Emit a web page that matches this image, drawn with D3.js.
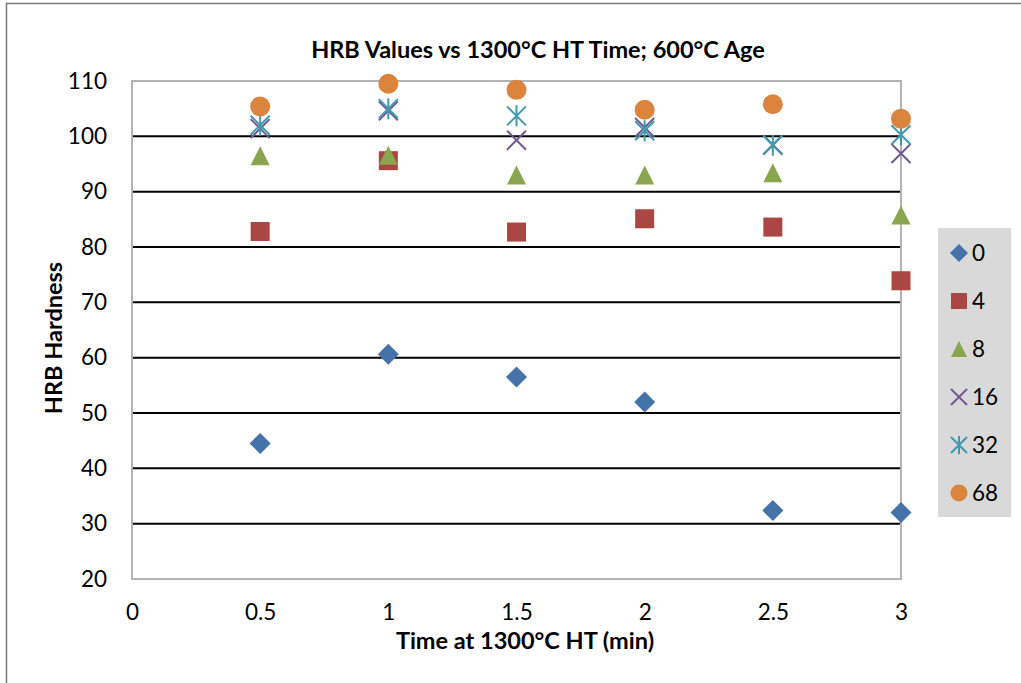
<!DOCTYPE html>
<html>
<head>
<meta charset="utf-8">
<script src="https://cdn.jsdelivr.net/npm/d3@7"></script>
<style>
  html, body { margin: 0; padding: 0; background: #fff; }
  svg { display: block; font-family: Lato, "Open Sans", sans-serif; }
</style>
</head>
<body>
<svg id="chart" width="1021" height="683"></svg>
<script>
// HT time (min) at which each sample set was measured
const times = [0.5, 1, 1.5, 2, 2.5, 3];

// Age time series names (legend labels)
const seriesNames = ["0", "4", "8", "16", "32", "68"];

// HRB readings per series, one per HT time
const hrb0  = [44.5, 60.6, 56.5, 52.0, 32.4, 32.0];
const hrb4  = [82.8, 95.6, 82.7, 85.1, 83.6, 73.9];
const hrb8  = [96.5, 96.6, 93.0, 93.0, 93.4, 85.8];
const hrb16 = [101.4, 104.6, 99.3, 101.6, 98.5, 96.9];
const hrb32 = [102.0, 105.0, 103.7, 101.0, 98.4, 100.3];
const hrb68 = [105.4, 109.5, 108.4, 104.8, 105.8, 103.2];

const xTicks = [0, 0.5, 1, 1.5, 2, 2.5, 3];
const yTicks = [20, 30, 40, 50, 60, 70, 80, 90, 100, 110];

const seriesValues = [hrb0, hrb4, hrb8, hrb16, hrb32, hrb68];
const colors = ["#4572A7", "#AA4643", "#89A54E", "#71588F", "#4198AF", "#DB843D"];
const shapes = ["diamond", "square", "triangle", "x", "star", "circle"];

const svg = d3.select("#chart");

// outer chart frame
svg.append("rect")
  .attr("x", 6.5).attr("y", 3.5)
  .attr("width", 1030).attr("height", 700)
  .attr("fill", "#fff").attr("stroke", "#7a7a7a").attr("stroke-width", 1.5);

const plot = { left: 132, right: 901, top: 81, bottom: 579 };

const x = d3.scaleLinear().domain([0, 3]).range([plot.left, plot.right]);
const y = d3.scaleLinear().domain([20, 110]).range([plot.bottom, plot.top]);

// horizontal gridlines
svg.append("g")
  .selectAll("line")
  .data(yTicks.filter(v => v > 20 && v < 110))
  .join("line")
  .attr("x1", plot.left).attr("x2", plot.right)
  .attr("y1", d => y(d)).attr("y2", d => y(d))
  .attr("stroke", "#000").attr("stroke-width", 2);

// plot area border
svg.append("rect")
  .attr("x", plot.left).attr("y", plot.top)
  .attr("width", plot.right - plot.left).attr("height", plot.bottom - plot.top)
  .attr("fill", "none").attr("stroke", "#b3b3b3").attr("stroke-width", 2);

// axes (labels only, lines come from the plot border)
const tickFont = 22.5;
const yAxis = d3.axisLeft(y).tickValues(yTicks).tickSize(0).tickPadding(25);
const gy = svg.append("g").attr("transform", `translate(${plot.left},0)`).call(yAxis);
gy.select(".domain").remove();
gy.selectAll("text").attr("font-size", tickFont).attr("font-family", "Lato, sans-serif").attr("fill", "#000");

const xAxis = d3.axisBottom(x).tickValues(xTicks).tickSize(0).tickPadding(25)
  .tickFormat(d => String(d));
const gx = svg.append("g").attr("transform", `translate(0,${plot.bottom})`).call(xAxis);
gx.select(".domain").remove();
gx.selectAll("text").attr("font-size", tickFont).attr("font-family", "Lato, sans-serif").attr("fill", "#000");

// marker drawing
function drawMarker(g, shape, color, s) {
  const h = s / 2;
  if (shape === "diamond") {
    g.append("path").attr("d", `M0,${-h - 1}L${h + 1},0L0,${h + 1}L${-h - 1},0Z`).attr("fill", color);
  } else if (shape === "square") {
    g.append("rect").attr("x", -h).attr("y", -h).attr("width", s).attr("height", s).attr("fill", color);
  } else if (shape === "triangle") {
    g.append("path").attr("d", `M0,${-h}L${h},${h}L${-h},${h}Z`).attr("fill", color);
  } else if (shape === "circle") {
    g.append("circle").attr("r", h + 0.5).attr("fill", color);
  } else if (shape === "x") {
    g.append("path").attr("d", `M${-h},${-h}L${h},${h}M${h},${-h}L${-h},${h}`)
      .attr("stroke", color).attr("stroke-width", 2).attr("fill", "none");
  } else if (shape === "star") {
    g.append("path").attr("d", `M${-h},${-h}L${h},${h}M${h},${-h}L${-h},${h}M0,${-h - 1}L0,${h + 1}`)
      .attr("stroke", color).attr("stroke-width", 2).attr("fill", "none");
  }
}

// data points
seriesValues.forEach((vals, i) => {
  const g = svg.append("g").attr("class", "series-" + seriesNames[i]);
  vals.forEach((v, j) => {
    const m = g.append("g").attr("transform", `translate(${x(times[j])},${y(v)})`);
    drawMarker(m, shapes[i], colors[i], 19);
  });
});

// legend
const legend = svg.append("g");
legend.append("rect")
  .attr("x", 938).attr("y", 228).attr("width", 73).attr("height", 289)
  .attr("fill", "#d9d9d9");
const legendY = d3.scalePoint().domain(seriesNames).range([253, 493]);
seriesNames.forEach((name, i) => {
  const m = legend.append("g").attr("transform", `translate(959,${legendY(name)})`);
  drawMarker(m, shapes[i], colors[i], 16);
  legend.append("text")
    .attr("x", 972).attr("y", legendY(name)).attr("dy", "0.36em")
    .attr("font-size", 22.5).attr("font-family", "Lato, sans-serif").attr("fill", "#000")
    .text(name);
});

// titles
svg.append("text")
  .attr("x", 538).attr("y", 58).attr("text-anchor", "middle")
  .attr("font-size", 23.5).attr("font-weight", "bold").attr("fill", "#000")
  .text("HRB Values vs 1300°C HT Time; 600°C Age");

svg.append("text")
  .attr("x", 525).attr("y", 649).attr("text-anchor", "middle")
  .attr("font-size", 23.5).attr("font-weight", "bold").attr("fill", "#000")
  .text("Time at 1300°C HT (min)");

svg.append("text")
  .attr("transform", "translate(62,338) rotate(-90)").attr("text-anchor", "middle")
  .attr("font-size", 23.5).attr("font-weight", "bold").attr("fill", "#000")
  .text("HRB Hardness");
</script>
</body>
</html>
